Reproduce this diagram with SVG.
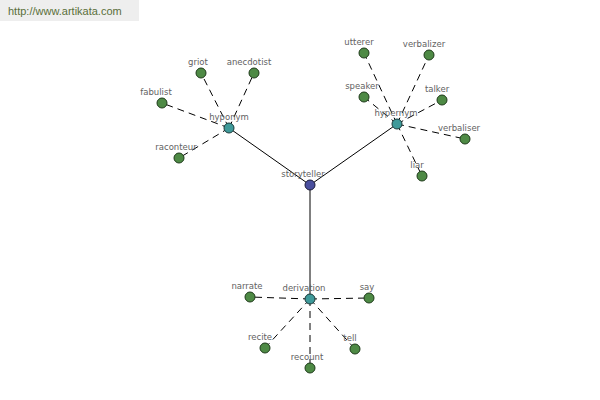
<svg xmlns="http://www.w3.org/2000/svg" width="600" height="400" viewBox="0 0 600 400">
<style>
.lbl{font-family:"DejaVu Sans","Liberation Sans",sans-serif;font-size:8.5px;fill:#626262;text-anchor:middle}
.leaf{fill:#4e8a45;stroke:#1e3a1a;stroke-width:1}
.mid{fill:#3f9a9a;stroke:#1a3a3a;stroke-width:1}
.root{fill:#4a4f9e;stroke:#1a1a3a;stroke-width:1}
.solid{stroke:#000;stroke-width:1;fill:none}
.dash{stroke:#000;stroke-width:1;stroke-dasharray:7,5;fill:none}
</style>
<rect x="0" y="0" width="600" height="400" fill="#fff"/>
<g id="watermark">
<rect x="0" y="0" width="139" height="21" fill="#eeeeee"/>
<text x="8" y="15" style="font-family:'Liberation Sans',Arial,sans-serif;font-size:11px;fill:#5a6e3a">http://www.artikata.com</text>
</g>
<g id="connectors">
<line class="solid" x1="310" y1="185" x2="229" y2="128"/>
<line class="solid" x1="310" y1="185" x2="397" y2="124"/>
<line class="solid" x1="310" y1="185" x2="310" y2="299"/>
<line class="dash" x1="229" y1="128" x2="201" y2="73"/>
<line class="dash" x1="229" y1="128" x2="254" y2="73"/>
<line class="dash" x1="229" y1="128" x2="162" y2="103"/>
<line class="dash" x1="229" y1="128" x2="179" y2="158"/>
<line class="dash" x1="397" y1="124" x2="364" y2="53"/>
<line class="dash" x1="397" y1="124" x2="429" y2="55"/>
<line class="dash" x1="397" y1="124" x2="364" y2="97"/>
<line class="dash" x1="397" y1="124" x2="442" y2="100"/>
<line class="dash" x1="397" y1="124" x2="465" y2="139"/>
<line class="dash" x1="397" y1="124" x2="422" y2="176"/>
<line class="dash" x1="310" y1="299" x2="250" y2="297"/>
<line class="dash" x1="310" y1="299" x2="369" y2="298"/>
<line class="dash" x1="310" y1="299" x2="265" y2="348"/>
<line class="dash" x1="310" y1="299" x2="355" y2="349"/>
<line class="dash" x1="310" y1="299" x2="310" y2="368"/>
</g>
<g id="storyteller"><circle class="root" cx="310" cy="185" r="5"/><text class="lbl" x="303" y="177">storyteller</text></g>
<g id="hyponym"><circle class="mid" cx="229" cy="128" r="5"/><text class="lbl" x="229" y="120">hyponym</text></g>
<g id="hypernym"><circle class="mid" cx="397" cy="124" r="5"/><text class="lbl" x="396" y="116">hypernym</text></g>
<g id="derivation"><circle class="mid" cx="310" cy="299" r="5"/><text class="lbl" x="304" y="291">derivation</text></g>
<g id="griot"><circle class="leaf" cx="201" cy="73" r="5"/><text class="lbl" x="198" y="65">griot</text></g>
<g id="anecdotist"><circle class="leaf" cx="254" cy="73" r="5"/><text class="lbl" x="249" y="65">anecdotist</text></g>
<g id="fabulist"><circle class="leaf" cx="162" cy="103" r="5"/><text class="lbl" x="156" y="95">fabulist</text></g>
<g id="raconteur"><circle class="leaf" cx="179" cy="158" r="5"/><text class="lbl" x="176" y="150">raconteur</text></g>
<g id="utterer"><circle class="leaf" cx="364" cy="53" r="5"/><text class="lbl" x="359" y="45">utterer</text></g>
<g id="verbalizer"><circle class="leaf" cx="429" cy="55" r="5"/><text class="lbl" x="424" y="47">verbalizer</text></g>
<g id="speaker"><circle class="leaf" cx="364" cy="97" r="5"/><text class="lbl" x="362" y="89">speaker</text></g>
<g id="talker"><circle class="leaf" cx="442" cy="100" r="5"/><text class="lbl" x="437" y="92">talker</text></g>
<g id="verbaliser"><circle class="leaf" cx="465" cy="139" r="5"/><text class="lbl" x="459" y="131">verbaliser</text></g>
<g id="liar"><circle class="leaf" cx="422" cy="176" r="5"/><text class="lbl" x="417" y="168">liar</text></g>
<g id="narrate"><circle class="leaf" cx="250" cy="297" r="5"/><text class="lbl" x="247" y="289">narrate</text></g>
<g id="say"><circle class="leaf" cx="369" cy="298" r="5"/><text class="lbl" x="367" y="290">say</text></g>
<g id="recite"><circle class="leaf" cx="265" cy="348" r="5"/><text class="lbl" x="260" y="340">recite</text></g>
<g id="tell"><circle class="leaf" cx="355" cy="349" r="5"/><text class="lbl" x="350" y="341">tell</text></g>
<g id="recount"><circle class="leaf" cx="310" cy="368" r="5"/><text class="lbl" x="307" y="360">recount</text></g>
</svg>
